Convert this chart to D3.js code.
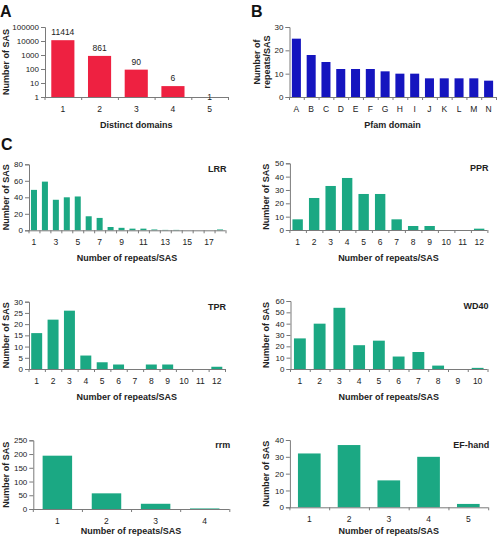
<!DOCTYPE html>
<html>
<head>
<meta charset="utf-8">
<script src="https://cdn.jsdelivr.net/npm/d3@7"></script>
<style>
  html, body { margin: 0; padding: 0; background: #fff; }
  svg { display: block; font-family: "Liberation Sans", Arial, sans-serif; }
</style>
</head>
<body>
<svg id="chart" width="498" height="536"></svg>
<script>
// ---- Data ----
const distinctDomains = [1, 2, 3, 4, 5];
const sasCounts = [11414, 861, 90, 6, 1];
const logTicks = [1, 10, 100, 1000, 10000, 100000];

const pfamDomains = ["A","B","C","D","E","F","G","H","I","J","K","L","M","N"];
const repeatsPerSas = [25, 18, 15, 12, 12, 12, 11, 10, 10, 8, 8, 8, 8, 7];
const pfamTicks = [0, 10, 20, 30];

const lrrRepeats = d3.range(1, 19);
const lrrValues = [49, 59, 37, 40, 41, 17, 15, 4, 3, 2, 2, 1, 0.5, 0.5, 0, 0, 0, 1];
const lrrTicks = [0, 20, 40, 60, 80];

const pprRepeats = d3.range(1, 13);
const pprValues = [8, 24, 33, 39, 27, 27, 8, 3, 3, 0, 0, 1];
const pprTicks = [0, 10, 20, 30, 40, 50];

const tprRepeats = d3.range(1, 13);
const tprValues = [16, 22, 26, 6, 3, 2, 0, 2, 2, 0, 0, 1];
const tprTicks = [0, 5, 10, 15, 20, 25, 30];

const wd40Repeats = d3.range(1, 11);
const wd40Values = [27, 40, 54, 21, 25, 11, 15, 3, 0, 1];
const wd40Ticks = [0, 10, 20, 30, 40, 50, 60];

const rrmRepeats = [1, 2, 3, 4];
const rrmValues = [194, 57, 19, 2];
const rrmTicks = [0, 50, 100, 150, 200, 250];

const efRepeats = [1, 2, 3, 4, 5];
const efValues = [32, 37, 16, 30, 2];
const efTicks = [0, 10, 20, 30, 40];

// ---- Drawing ----
const svg = d3.select("#chart");
const AXIS = "#7a7a7a";
const TEXT = "#222";
const RED = "#ee2141", BLUE = "#1515bf", GREEN = "#1ba883";

function panel(o) {
  const g = svg.append("g");
  const x = d3.scaleBand().domain(o.cats).range(o.xRange)
    .paddingInner(o.pad).paddingOuter(o.pad / 2);
  const y = (o.log ? d3.scaleLog() : d3.scaleLinear())
    .domain(o.yDomain).range(o.yRange);
  const base = o.yRange[0];

  // bars
  g.selectAll("rect.bar").data(o.cats.map((c, i) => ({ c, v: o.vals[i] })))
    .join("rect")
    .attr("x", d => x(d.c))
    .attr("width", x.bandwidth())
    .attr("y", d => y(d.v))
    .attr("height", d => Math.max(0, base - y(d.v)))
    .attr("fill", o.color);

  // y axis
  const yAxis = d3.axisLeft(y).tickValues(o.yTicks).tickSize(4).tickPadding(2)
    .tickFormat(d3.format("d"));
  const ya = g.append("g").attr("transform", `translate(${o.xRange[0] + 0.5},0)`).call(yAxis);
  ya.select(".domain").attr("stroke", AXIS);
  ya.selectAll(".tick line").attr("stroke", AXIS);
  ya.selectAll(".tick text").attr("fill", TEXT).style("font-size", "8px")
    .style("font-family", "'Liberation Sans', Arial, sans-serif");

  // x axis: line + boundary ticks + labels
  const step = x.step();
  g.append("line").attr("x1", o.xRange[0]).attr("x2", o.xRange[1])
    .attr("y1", base + 0.5).attr("y2", base + 0.5).attr("stroke", AXIS);
  g.selectAll("line.xt").data(d3.range(o.cats.length + 1)).join("line")
    .attr("x1", i => o.xRange[0] + i * step + 0.5)
    .attr("x2", i => o.xRange[0] + i * step + 0.5)
    .attr("y1", base).attr("y2", base + 3).attr("stroke", AXIS);
  g.selectAll("text.xl").data(o.cats.filter(o.xFilter || (() => true))).join("text")
    .attr("x", d => x(d) + x.bandwidth() / 2)
    .attr("y", base + 12).attr("dy", "0.35em")
    .attr("text-anchor", "middle").attr("fill", TEXT)
    .style("font-size", "8.5px").text(d => d);

  // x title
  const titleY = o.xTitleBaseline !== undefined ? o.xTitleBaseline : base + 30.7;
  g.append("text").attr("x", (o.xRange[0] + o.xRange[1]) / 2).attr("y", titleY)
    .attr("text-anchor", "middle").attr("fill", TEXT)
    .style("font-size", "9px").style("font-weight", "bold").text(o.xTitle);

  // y title
  const yc = (o.yRange[0] + o.yRange[1]) / 2;
  const yt = g.append("text").attr("transform", `translate(${o.yTitleX},${yc}) rotate(-90)`)
    .attr("text-anchor", "middle").attr("fill", TEXT)
    .style("font-size", "9px").style("font-weight", "bold");
  o.yTitle.forEach((line, i) => {
    yt.append("tspan").attr("x", 0)
      .attr("dy", i === 0 ? (0.35 - (o.yTitle.length - 1) * 0.55) + "em" : "1.1em")
      .text(line);
  });

  // domain label
  if (o.label) {
    g.append("text").attr("x", o.xRange[1] + 1).attr("y", o.yRange[1] + 5).attr("dy", "0.35em")
      .attr("text-anchor", "end").attr("fill", TEXT)
      .style("font-size", "9px").style("font-weight", "bold").text(o.label);
  }

  // value labels
  if (o.valueLabels) {
    g.selectAll("text.vl").data(o.cats.map((c, i) => ({ c, v: o.vals[i] }))).join("text")
      .attr("x", d => x(d.c) + x.bandwidth() / 2)
      .attr("y", d => (base - y(d.v) < 1 ? base : y(d.v) - 8))
      .attr("dy", "0.35em").attr("text-anchor", "middle").attr("fill", TEXT)
      .style("font-size", "8.5px").text(d => d.v);
  }
  return g;
}

function letter(t, xx, yy) {
  svg.append("text").attr("x", xx).attr("y", yy).attr("fill", "#111")
    .style("font-size", "16px").style("font-weight", "bold").text(t);
}

letter("A", 0, 17);
letter("B", 251, 17);
letter("C", 1, 150);

panel({ cats: distinctDomains, vals: sasCounts, xRange: [44.5, 228], yRange: [97, 27],
  yDomain: [1, 100000], log: true, yTicks: logTicks, color: RED, pad: 0.37,
  xTitle: "Distinct domains", yTitle: ["Number of SAS"], yTitleX: 6, valueLabels: true });

panel({ cats: pfamDomains, vals: repeatsPerSas, xRange: [289, 496], yRange: [97, 27],
  yDomain: [0, 30], yTicks: pfamTicks, color: BLUE, pad: 0.39,
  xTitle: "Pfam domain", yTitle: ["Number of", "repeats/SAS"], yTitleX: 261.5 });

panel({ cats: lrrRepeats, vals: lrrValues, xRange: [28.5, 225.5], yRange: [230.3, 164.3],
  yDomain: [0, 80], yTicks: lrrTicks, color: GREEN, pad: 0.45, xFilter: d => d % 2 === 1,
  xTitle: "Number of repeats/SAS", yTitle: ["Number of SAS"], yTitleX: 6, label: "LRR" });

panel({ cats: pprRepeats, vals: pprValues, xRange: [289.4, 487.4], yRange: [230, 163.3],
  yDomain: [0, 50], yTicks: pprTicks, color: GREEN, pad: 0.37,
  xTitle: "Number of repeats/SAS", yTitle: ["Number of SAS"], yTitleX: 266, label: "PPR" });

panel({ cats: tprRepeats, vals: tprValues, xRange: [28.5, 225], yRange: [369, 301.7],
  yDomain: [0, 30], yTicks: tprTicks, color: GREEN, pad: 0.33,
  xTitle: "Number of repeats/SAS", yTitle: ["Number of SAS"], yTitleX: 6, label: "TPR" });

panel({ cats: wd40Repeats, vals: wd40Values, xRange: [290, 487.5], yRange: [369, 301],
  yDomain: [0, 60], yTicks: wd40Ticks, color: GREEN, pad: 0.4,
  xTitle: "Number of repeats/SAS", yTitle: ["Number of SAS"], yTitleX: 266, label: "WD40" });

panel({ cats: rrmRepeats, vals: rrmValues, xRange: [32.8, 229.3], yRange: [509, 440.3],
  yDomain: [0, 250], yTicks: rrmTicks, color: GREEN, pad: 0.4, xTitleBaseline: 533.5,
  xTitle: "Number of repeats/SAS", yTitle: ["Number of SAS"], yTitleX: 6, label: "rrm" });

panel({ cats: efRepeats, vals: efValues, xRange: [289.4, 488.2], yRange: [507.3, 440],
  yDomain: [0, 40], yTicks: efTicks, color: GREEN, pad: 0.43, xTitleBaseline: 533.5,
  xTitle: "Number of repeats/SAS", yTitle: ["Number of SAS"], yTitleX: 266, label: "EF-hand" });
</script>
</body>
</html>
